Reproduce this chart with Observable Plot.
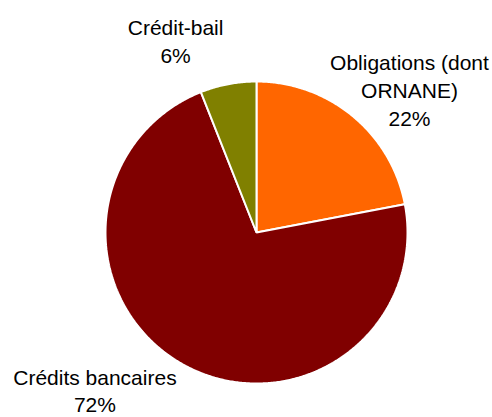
<!DOCTYPE html>
<html>
<head>
<meta charset="utf-8">
<script src="https://cdn.jsdelivr.net/npm/d3@7"></script>
<script src="https://cdn.jsdelivr.net/npm/@observablehq/plot@0.6"></script>
<style>
  html, body { margin: 0; padding: 0; background: #fff; }
  #chart { width: 492px; height: 417px; }
</style>
</head>
<body>
<div id="chart"></div>
<script>
// Data (clockwise from 12 o'clock)
const categories = ["Obligations (dont\nORNANE)", "Crédits bancaires", "Crédit-bail"];
const values = [22, 72, 6];
const colors = ["#FF6600", "#800000", "#808000"];

// Label layout, in units of the pie radius (relative to centre)
const labelPos = [
  {dx: 1.013, dy: 0.95},
  {dx: -1.07, dy: -1.04},
  {dx: -0.536, dy: 1.275}
];

const total = d3.sum(values);
const pts = [];
let acc = 0;
categories.forEach((c, i) => {
  const a0 = acc / total * 2 * Math.PI;
  acc += values[i];
  const a1 = acc / total * 2 * Math.PI;
  pts.push({cat: c, x: 0, y: 0});
  const n = Math.max(2, Math.ceil((a1 - a0) / (Math.PI / 360)));
  for (let k = 0; k <= n; k++) {
    const a = a0 + (a1 - a0) * k / n;
    pts.push({cat: c, x: Math.sin(a), y: Math.cos(a)});
  }
  pts.push({cat: c, x: 0, y: 0});
});

const labels = categories.map((c, i) => ({
  text: c + "\n" + values[i] + "%",
  x: labelPos[i].dx,
  y: labelPos[i].dy
}));

const cx = 256, cy = 232, r = 151;
const chart = Plot.plot({
  width: 492,
  height: 417,
  margin: 0,
  style: {background: "#fff", overflow: "visible"},
  x: {domain: [-1, 1], range: [cx - r, cx + r], axis: null},
  y: {domain: [-1, 1], range: [cy + r, cy - r], axis: null},
  color: {domain: categories, range: colors},
  marks: [
    Plot.line(pts, {x: "x", y: "y", z: "cat", fill: "cat", stroke: "#fff", strokeWidth: 2, strokeLinejoin: "miter", curve: "linear-closed"}),
    Plot.text(labels, {x: "x", y: "y", text: "text", fontSize: 21, fontFamily: "Liberation Sans, Arial, sans-serif", fill: "#000", lineHeight: 1.32, textAnchor: "middle", lineAnchor: "middle"})
  ]
});
document.getElementById("chart").appendChild(chart);
</script>
</body>
</html>
